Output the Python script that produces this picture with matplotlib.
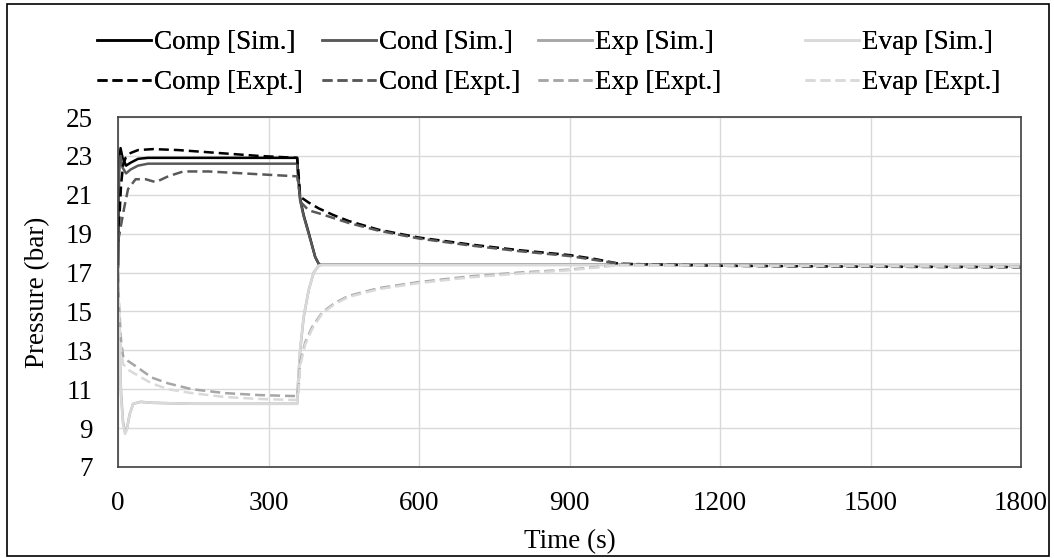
import matplotlib
matplotlib.use("Agg")
import matplotlib.pyplot as plt
from matplotlib.patches import Rectangle

plt.rcParams["font.family"] = ["Liberation Serif", "DejaVu Serif"]

# time (s) / pressure (bar)
comp_sim_t = [0, 2, 5, 9, 16, 25, 40, 60, 100, 200, 300, 357, 359, 363, 370, 380, 393, 400, 405, 600, 900, 1200, 1500, 1800]
comp_sim_p = [17.3, 22.6, 23.4, 22.9, 22.5, 22.65, 22.85, 22.9, 22.9, 22.9, 22.9, 22.9, 22.1, 20.8, 19.95, 19.05, 17.8, 17.45, 17.4, 17.4, 17.4, 17.4, 17.38, 17.38]

cond_sim_t = [0, 2, 5, 9, 16, 25, 40, 60, 100, 200, 300, 357, 359, 363, 370, 380, 393, 400, 405, 600, 900, 1200, 1500, 1800]
cond_sim_p = [17.3, 22.2, 23.0, 22.4, 22.1, 22.3, 22.5, 22.6, 22.6, 22.6, 22.6, 22.6, 21.9, 20.7, 19.9, 19.0, 17.8, 17.45, 17.4, 17.4, 17.4, 17.4, 17.38, 17.38]

exp_sim_t = [0, 3, 6, 10, 14, 18, 23, 30, 45, 70, 150, 250, 357, 359, 363, 370, 380, 390, 400, 405, 600, 1000, 1400, 1800]
exp_sim_p = [17.3, 13.2, 10.8, 9.3, 8.8, 9.0, 9.7, 10.25, 10.35, 10.3, 10.25, 10.25, 10.25, 11.4, 13.0, 14.7, 16.1, 17.0, 17.35, 17.4, 17.4, 17.4, 17.38, 17.38]

evap_sim_t = [0, 3, 6, 10, 14, 18, 23, 30, 45, 70, 150, 250, 357, 359, 363, 370, 380, 390, 400, 405, 600, 1000, 1400, 1800]
evap_sim_p = [17.3, 13.0, 10.6, 9.2, 8.7, 8.95, 9.7, 10.25, 10.35, 10.3, 10.25, 10.25, 10.25, 11.4, 13.05, 14.75, 16.1, 17.0, 17.35, 17.4, 17.4, 17.4, 17.38, 17.38]

comp_exp_t = [0, 3, 6, 10, 15, 25, 40, 70, 120, 200, 280, 340, 357, 360, 363, 380, 400, 430, 460, 520, 600, 700, 800, 900, 950, 1000, 1200, 1500, 1800]
comp_exp_p = [18.6, 20.0, 21.5, 22.5, 22.9, 23.15, 23.3, 23.35, 23.3, 23.15, 23.0, 22.92, 22.9, 22.0, 20.9, 20.6, 20.3, 19.95, 19.65, 19.2, 18.8, 18.45, 18.15, 17.9, 17.7, 17.45, 17.35, 17.3, 17.28]

cond_exp_t = [0, 5, 12, 20, 35, 55, 75, 100, 130, 180, 250, 320, 357, 360, 365, 380, 400, 430, 460, 520, 600, 700, 800, 900, 950, 1000, 1200, 1500, 1800]
cond_exp_p = [18.6, 19.3, 20.3, 21.3, 21.8, 21.8, 21.65, 21.95, 22.2, 22.2, 22.1, 22.0, 21.95, 21.4, 20.6, 20.2, 20.05, 19.8, 19.55, 19.15, 18.75, 18.4, 18.1, 17.85, 17.65, 17.45, 17.35, 17.3, 17.28]

exp_exp_t = [0, 2, 6, 10, 20, 40, 67, 100, 147, 213, 280, 347, 357, 360, 363, 373, 387, 407, 433, 460, 520, 597, 700, 800, 900, 980, 1000, 1200, 1500, 1800]
exp_exp_p = [17.0, 15.3, 13.5, 12.7, 12.45, 12.1, 11.6, 11.3, 11.0, 10.8, 10.7, 10.65, 10.65, 11.1, 12.4, 13.4, 14.2, 14.95, 15.45, 15.8, 16.2, 16.5, 16.8, 17.0, 17.15, 17.35, 17.4, 17.38, 17.35, 17.3]

evap_exp_t = [0, 2, 6, 10, 20, 40, 67, 100, 147, 213, 280, 347, 357, 360, 363, 373, 387, 407, 433, 460, 520, 597, 700, 800, 900, 980, 1000, 1200, 1500, 1800]
evap_exp_p = [16.5, 14.8, 13.0, 12.3, 12.0, 11.7, 11.3, 11.0, 10.8, 10.6, 10.5, 10.45, 10.45, 10.9, 12.2, 13.3, 14.1, 14.9, 15.4, 15.75, 16.15, 16.45, 16.75, 16.95, 17.12, 17.33, 17.38, 17.36, 17.33, 17.3]

x_ticks = [0, 300, 600, 900, 1200, 1500, 1800]
y_ticks = [7, 9, 11, 13, 15, 17, 19, 21, 23, 25]

fig = plt.figure(figsize=(10.54, 5.58), dpi=100)
ax = fig.add_axes([0.112, 0.1631, 0.8567, 0.6272])

lw = 1.8
dash = (0, (4, 2))
h = {}
h["cs"], = ax.plot(comp_sim_t, comp_sim_p, color="black", lw=lw, label="Comp [Sim.]")
h["ns"], = ax.plot(cond_sim_t, cond_sim_p, color="#595959", lw=lw, label="Cond [Sim.]")
h["xs"], = ax.plot(exp_sim_t, exp_sim_p, color="#a6a6a6", lw=lw, label="Exp [Sim.]")
h["vs"], = ax.plot(evap_sim_t, evap_sim_p, color="#d9d9d9", lw=lw, label="Evap [Sim.]")
h["ce"], = ax.plot(comp_exp_t, comp_exp_p, color="black", lw=lw, ls=dash, label="Comp [Expt.]")
h["ne"], = ax.plot(cond_exp_t, cond_exp_p, color="#595959", lw=lw, ls=dash, label="Cond [Expt.]")
h["xe"], = ax.plot(exp_exp_t, exp_exp_p, color="#a6a6a6", lw=lw, ls=dash, label="Exp [Expt.]")
h["ve"], = ax.plot(evap_exp_t, evap_exp_p, color="#d9d9d9", lw=lw, ls=dash, label="Evap [Expt.]")

ax.set_xlim(0, 1800)
ax.set_ylim(7, 25)
ax.set_xticks(x_ticks)
ax.set_yticks(y_ticks)
ax.grid(True, color="#d9d9d9", lw=1)
ax.set_axisbelow(True)
ax.tick_params(length=0, labelsize=19.5)
ax.tick_params(axis="y", pad=18)
ax.tick_params(axis="x", pad=17)
for s in ax.spines.values():
    s.set_color("#404040")
    s.set_linewidth(1.2)

ax.set_xlabel("Time (s)", fontsize=19.5, labelpad=10)
ax.set_ylabel("Pressure (bar)", fontsize=19.5)
ax.yaxis.set_label_coords(-0.075, 0.5)

# one legend per column, Sim. on top row, Expt. below
columns = [("cs", "ce", 97), ("ns", "ne", 322), ("xs", "xe", 538), ("vs", "ve", 805)]
for top_key, bot_key, x_px in columns:
    leg = fig.legend([h[top_key], h[bot_key]],
                     [h[top_key].get_label(), h[bot_key].get_label()],
                     loc="upper left", bbox_to_anchor=(x_px / 1054, 0.946),
                     frameon=False, fontsize=19.5, handlelength=2.0, handletextpad=0.12,
                     labelspacing=0.55, borderaxespad=0, borderpad=0)
    fig.add_artist(leg)

fig.add_artist(Rectangle((0.0066, 0.004), 0.9887, 0.989, transform=fig.transFigure,
                         fill=False, edgecolor="black", lw=1.2))

fig.savefig("out.png", dpi=100)
